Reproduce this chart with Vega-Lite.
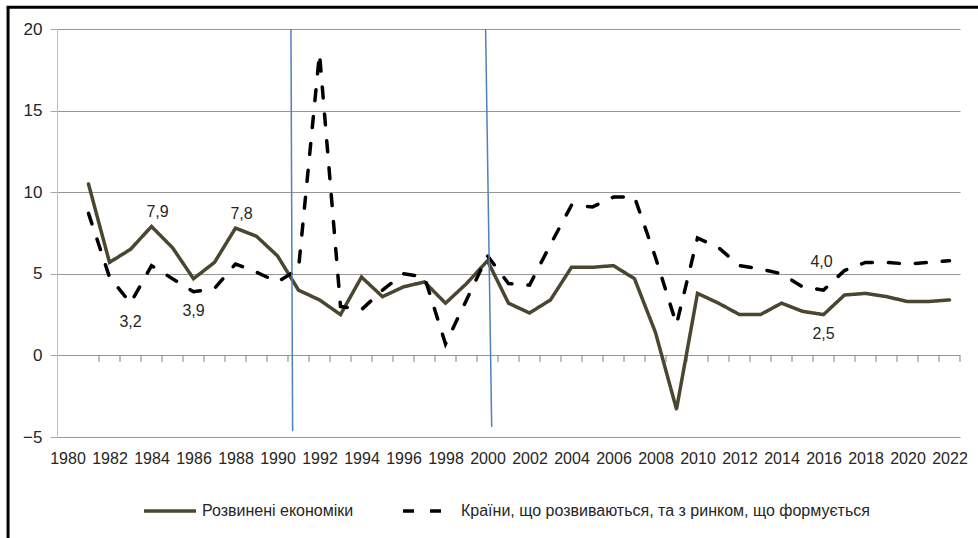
{
  "$schema": "https://vega.github.io/schema/vega-lite/v6.json",
  "width": 903,
  "height": 408,
  "autosize": {"type": "none"},
  "padding": {"left": 57, "top": 29, "right": 18, "bottom": 101},
  "background": "white",
  "config": {"view": {"stroke": null}, "font": "Liberation Sans"},
  "datasets": {
    "lines": [
      {"year": 1981, "series": "Розвинені економіки", "value": 10.5},
      {"year": 1982, "series": "Розвинені економіки", "value": 5.7},
      {"year": 1983, "series": "Розвинені економіки", "value": 6.5},
      {"year": 1984, "series": "Розвинені економіки", "value": 7.9},
      {"year": 1985, "series": "Розвинені економіки", "value": 6.6},
      {"year": 1986, "series": "Розвинені економіки", "value": 4.7},
      {"year": 1987, "series": "Розвинені економіки", "value": 5.7},
      {"year": 1988, "series": "Розвинені економіки", "value": 7.8},
      {"year": 1989, "series": "Розвинені економіки", "value": 7.3},
      {"year": 1990, "series": "Розвинені економіки", "value": 6.1},
      {"year": 1991, "series": "Розвинені економіки", "value": 4.0},
      {"year": 1992, "series": "Розвинені економіки", "value": 3.4},
      {"year": 1993, "series": "Розвинені економіки", "value": 2.5},
      {"year": 1994, "series": "Розвинені економіки", "value": 4.8},
      {"year": 1995, "series": "Розвинені економіки", "value": 3.6},
      {"year": 1996, "series": "Розвинені економіки", "value": 4.2},
      {"year": 1997, "series": "Розвинені економіки", "value": 4.5},
      {"year": 1998, "series": "Розвинені економіки", "value": 3.2},
      {"year": 1999, "series": "Розвинені економіки", "value": 4.4},
      {"year": 2000, "series": "Розвинені економіки", "value": 5.8},
      {"year": 2001, "series": "Розвинені економіки", "value": 3.2},
      {"year": 2002, "series": "Розвинені економіки", "value": 2.6},
      {"year": 2003, "series": "Розвинені економіки", "value": 3.4},
      {"year": 2004, "series": "Розвинені економіки", "value": 5.4},
      {"year": 2005, "series": "Розвинені економіки", "value": 5.4},
      {"year": 2006, "series": "Розвинені економіки", "value": 5.5},
      {"year": 2007, "series": "Розвинені економіки", "value": 4.7},
      {"year": 2008, "series": "Розвинені економіки", "value": 1.4},
      {"year": 2009, "series": "Розвинені економіки", "value": -3.3},
      {"year": 2010, "series": "Розвинені економіки", "value": 3.8},
      {"year": 2011, "series": "Розвинені економіки", "value": 3.2},
      {"year": 2012, "series": "Розвинені економіки", "value": 2.5},
      {"year": 2013, "series": "Розвинені економіки", "value": 2.5},
      {"year": 2014, "series": "Розвинені економіки", "value": 3.2},
      {"year": 2015, "series": "Розвинені економіки", "value": 2.7},
      {"year": 2016, "series": "Розвинені економіки", "value": 2.5},
      {"year": 2017, "series": "Розвинені економіки", "value": 3.7},
      {"year": 2018, "series": "Розвинені економіки", "value": 3.8},
      {"year": 2019, "series": "Розвинені економіки", "value": 3.6},
      {"year": 2020, "series": "Розвинені економіки", "value": 3.3},
      {"year": 2021, "series": "Розвинені економіки", "value": 3.3},
      {"year": 2022, "series": "Розвинені економіки", "value": 3.4},
      {"year": 1981, "series": "Країни, що розвиваються, та з ринком, що формується", "value": 8.7},
      {"year": 1982, "series": "Країни, що розвиваються, та з ринком, що формується", "value": 4.8},
      {"year": 1983, "series": "Країни, що розвиваються, та з ринком, що формується", "value": 3.2},
      {"year": 1984, "series": "Країни, що розвиваються, та з ринком, що формується", "value": 5.5},
      {"year": 1985, "series": "Країни, що розвиваються, та з ринком, що формується", "value": 4.7},
      {"year": 1986, "series": "Країни, що розвиваються, та з ринком, що формується", "value": 3.9},
      {"year": 1987, "series": "Країни, що розвиваються, та з ринком, що формується", "value": 4.1},
      {"year": 1988, "series": "Країни, що розвиваються, та з ринком, що формується", "value": 5.6},
      {"year": 1989, "series": "Країни, що розвиваються, та з ринком, що формується", "value": 5.1},
      {"year": 1990, "series": "Країни, що розвиваються, та з ринком, що формується", "value": 4.5},
      {"year": 1991, "series": "Країни, що розвиваються, та з ринком, що формується", "value": 5.3},
      {"year": 1992, "series": "Країни, що розвиваються, та з ринком, що формується", "value": 18.5},
      {"year": 1993, "series": "Країни, що розвиваються, та з ринком, що формується", "value": 3.0},
      {"year": 1994, "series": "Країни, що розвиваються, та з ринком, що формується", "value": 2.8},
      {"year": 1995, "series": "Країни, що розвиваються, та з ринком, що формується", "value": 4.0},
      {"year": 1996, "series": "Країни, що розвиваються, та з ринком, що формується", "value": 5.0},
      {"year": 1997, "series": "Країни, що розвиваються, та з ринком, що формується", "value": 4.8},
      {"year": 1998, "series": "Країни, що розвиваються, та з ринком, що формується", "value": 0.7},
      {"year": 1999, "series": "Країни, що розвиваються, та з ринком, що формується", "value": 3.4},
      {"year": 2000, "series": "Країни, що розвиваються, та з ринком, що формується", "value": 6.1},
      {"year": 2001, "series": "Країни, що розвиваються, та з ринком, що формується", "value": 4.4},
      {"year": 2002, "series": "Країни, що розвиваються, та з ринком, що формується", "value": 4.3},
      {"year": 2003, "series": "Країни, що розвиваються, та з ринком, що формується", "value": 6.8},
      {"year": 2004, "series": "Країни, що розвиваються, та з ринком, що формується", "value": 9.2},
      {"year": 2005, "series": "Країни, що розвиваються, та з ринком, що формується", "value": 9.1},
      {"year": 2006, "series": "Країни, що розвиваються, та з ринком, що формується", "value": 9.7},
      {"year": 2007, "series": "Країни, що розвиваються, та з ринком, що формується", "value": 9.7},
      {"year": 2008, "series": "Країни, що розвиваються, та з ринком, що формується", "value": 6.0},
      {"year": 2009, "series": "Країни, що розвиваються, та з ринком, що формується", "value": 1.9},
      {"year": 2010, "series": "Країни, що розвиваються, та з ринком, що формується", "value": 7.2},
      {"year": 2011, "series": "Країни, що розвиваються, та з ринком, що формується", "value": 6.6},
      {"year": 2012, "series": "Країни, що розвиваються, та з ринком, що формується", "value": 5.5},
      {"year": 2013, "series": "Країни, що розвиваються, та з ринком, що формується", "value": 5.3},
      {"year": 2014, "series": "Країни, що розвиваються, та з ринком, що формується", "value": 5.0},
      {"year": 2015, "series": "Країни, що розвиваються, та з ринком, що формується", "value": 4.2},
      {"year": 2016, "series": "Країни, що розвиваються, та з ринком, що формується", "value": 4.0},
      {"year": 2017, "series": "Країни, що розвиваються, та з ринком, що формується", "value": 5.2},
      {"year": 2018, "series": "Країни, що розвиваються, та з ринком, що формується", "value": 5.7},
      {"year": 2019, "series": "Країни, що розвиваються, та з ринком, що формується", "value": 5.7},
      {"year": 2020, "series": "Країни, що розвиваються, та з ринком, що формується", "value": 5.6},
      {"year": 2021, "series": "Країни, що розвиваються, та з ринком, що формується", "value": 5.7},
      {"year": 2022, "series": "Країни, що розвиваються, та з ринком, що формується", "value": 5.8}
    ],
    "labelsAbove": [
      {"year": 1984, "value": 7.9, "label": "7,9"},
      {"year": 1988, "value": 7.8, "label": "7,8"}
    ],
    "labelsAboveHigh": [
      {"year": 2016, "value": 4.0, "label": "4,0"}
    ],
    "labelsBelow": [
      {"year": 1983, "value": 3.2, "label": "3,2"},
      {"year": 1986, "value": 3.9, "label": "3,9"},
      {"year": 2016, "value": 2.5, "label": "2,5"}
    ],
    "markers": [
      {"start": 1990.64, "end": 1990.72, "top": 20, "bottom": -4.64},
      {"start": 1999.91, "end": 2000.2, "top": 20, "bottom": -4.39}
    ]
  },
  "layer": [
    {
      "data": {"name": "lines"},
      "transform": [{"filter": "datum.series === 'Розвинені економіки'"}],
      "mark": {"type": "rule", "color": "#808080", "strokeWidth": 1, "xOffset": 10.5},
      "encoding": {
        "x": {"field": "year", "type": "quantitative"},
        "y": {"datum": 0, "type": "quantitative"},
        "y2": {"datum": -0.4}
      }
    },
    {
      "data": {"name": "lines"},
      "mark": {"type": "line", "strokeWidth": 3.5, "strokeCap": "round", "strokeJoin": "miter"},
      "encoding": {
        "x": {
          "field": "year",
          "type": "quantitative",
          "scale": {"domain": [1979.5, 2022.5], "nice": false, "zero": false},
          "axis": {
            "title": null,
            "orient": "bottom",
            "values": [1980, 1982, 1984, 1986, 1988, 1990, 1992, 1994, 1996, 1998, 2000, 2002, 2004, 2006, 2008, 2010, 2012, 2014, 2016, 2018, 2020, 2022],
            "format": "d",
            "domain": false,
            "ticks": false,
            "tickSize": 0,
            "labelPadding": 13,
            "labelFont": "Liberation Sans",
            "labelFontSize": 16,
            "labelColor": "#262626",
            "labelOverlap": false,
            "labelFlush": false,
            "labelBound": false,
            "grid": false
          }
        },
        "y": {
          "field": "value",
          "type": "quantitative",
          "scale": {"domain": [-5, 20], "nice": false, "zero": false},
          "axis": {
            "title": null,
            "values": [-5, 0, 5, 10, 15, 20],
            "grid": true,
            "gridColor": "#969696",
            "gridWidth": 1,
            "domainColor": "#bfbfbf",
            "tickColor": "#a6a6a6",
            "tickSize": 7,
            "labelPadding": 8,
            "labelFont": "Liberation Sans",
            "labelFontSize": 17,
            "labelColor": "#262626"
          }
        },
        "color": {
          "field": "series",
          "type": "nominal",
          "scale": {
            "domain": ["Розвинені економіки", "Країни, що розвиваються, та з ринком, що формується"],
            "range": ["#4a4630", "#000000"]
          },
          "legend": {
            "title": null,
            "orient": "none",
            "legendX": 85,
            "legendY": 454,
            "direction": "horizontal",
            "symbolType": "stroke",
            "symbolSize": 2704,
            "symbolStrokeWidth": 3.5,
            "labelFont": "Liberation Sans",
            "labelFontSize": 16,
            "labelColor": "#262626",
            "labelOffset": 4,
            "columnPadding": 42,
            "labelLimit": 600
          }
        },
        "strokeDash": {
          "field": "series",
          "type": "nominal",
          "scale": {
            "domain": ["Розвинені економіки", "Країни, що розвиваються, та з ринком, що формується"],
            "range": [[1, 0], [11, 16]]
          },
          "legend": {
            "title": null,
            "orient": "none",
            "legendX": 85,
            "legendY": 454,
            "direction": "horizontal",
            "symbolType": "stroke",
            "symbolSize": 2704,
            "symbolStrokeWidth": 3.5,
            "labelFont": "Liberation Sans",
            "labelFontSize": 16,
            "labelColor": "#262626",
            "labelOffset": 4,
            "columnPadding": 42,
            "labelLimit": 600
          }
        }
      }
    },
    {
      "data": {"name": "labelsAbove"},
      "mark": {"type": "text", "dx": 6, "dy": -14, "fontSize": 16, "font": "Liberation Sans", "color": "#262626"},
      "encoding": {
        "x": {"field": "year", "type": "quantitative"},
        "y": {"field": "value", "type": "quantitative"},
        "text": {"field": "label"}
      }
    },
    {
      "data": {"name": "labelsAboveHigh"},
      "mark": {"type": "text", "dx": -2, "dy": -28, "fontSize": 16, "font": "Liberation Sans", "color": "#262626"},
      "encoding": {
        "x": {"field": "year", "type": "quantitative"},
        "y": {"field": "value", "type": "quantitative"},
        "text": {"field": "label"}
      }
    },
    {
      "data": {"name": "labelsBelow"},
      "mark": {"type": "text", "dx": 0, "dy": 19, "fontSize": 16, "font": "Liberation Sans", "color": "#262626"},
      "encoding": {
        "x": {"field": "year", "type": "quantitative"},
        "y": {"field": "value", "type": "quantitative"},
        "text": {"field": "label"}
      }
    },
    {
      "data": {"name": "markers"},
      "mark": {"type": "rule", "color": "#4f81bd", "strokeWidth": 1.5},
      "encoding": {
        "x": {"field": "start", "type": "quantitative"},
        "x2": {"field": "end"},
        "y": {"field": "top", "type": "quantitative"},
        "y2": {"field": "bottom"}
      }
    },
    {
      "data": {"values": [{}]},
      "mark": {"type": "rule", "color": "#000000", "strokeWidth": 3},
      "encoding": {
        "x": {"datum": 1977.1, "type": "quantitative"},
        "x2": {"datum": 2023.4},
        "y": {"datum": 21.33, "type": "quantitative"}
      }
    },
    {
      "data": {"values": [{}]},
      "mark": {"type": "rule", "color": "#000000", "strokeWidth": 3},
      "encoding": {
        "x": {"datum": 1977.17, "type": "quantitative"},
        "y": {"datum": 21.33, "type": "quantitative"},
        "y2": {"datum": -11.2}
      }
    }
  ]
}
